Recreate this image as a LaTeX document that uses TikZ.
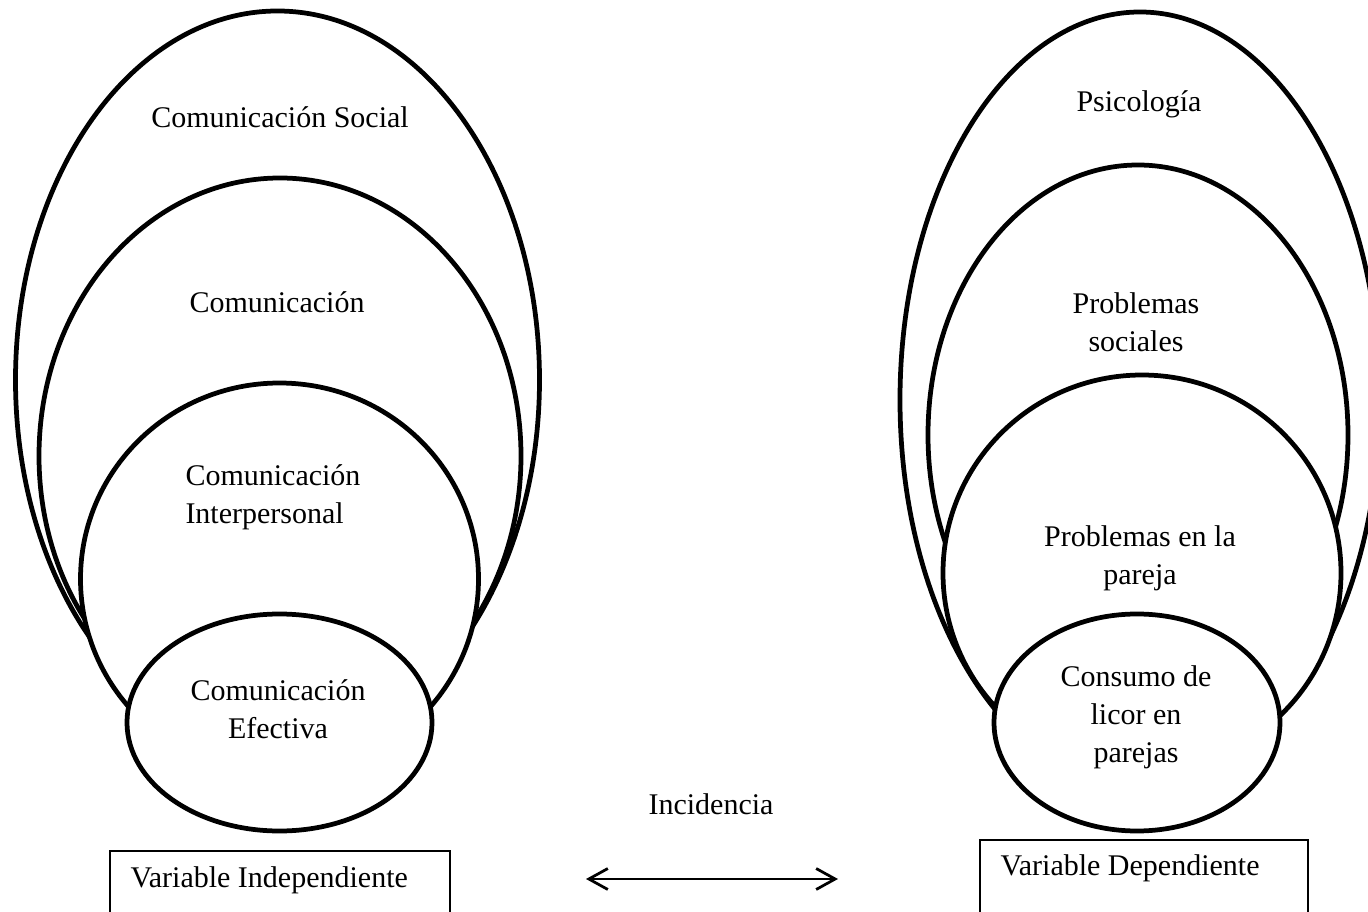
\documentclass[tikz,border=0pt]{standalone}
\usepackage{fontspec}
\setmainfont{Liberation Serif}
\usetikzlibrary{arrows.meta}

\tikzset{
  ovalo/.style={draw=black, fill=white, line width=1.9pt},
  texto/.style={inner sep=0pt, align=center, font=\fontsize{12}{15.2}\selectfont},
  caja/.style={draw=black, line width=0.6pt},
  flecha/.style={line width=1.1pt, {Straight Barb[length=7.6pt,width=8.4pt]}-{Straight Barb[length=7.6pt,width=8.4pt]}}
}

\begin{document}
\begin{tikzpicture}[x=0.4pt,y=-0.4pt]
\useasboundingbox (0,0) rectangle (1368,912);
\clip (0,0) rectangle (1368,912);
%Variable independiente: ovalos de afuera hacia adentro
\draw[ovalo] (277.5,380) ellipse [x radius=262, y radius=369];
\draw[ovalo] (280,456) ellipse [x radius=241, y radius=278];
\draw[ovalo] (279.5,579) ellipse [x radius=199, y radius=196];
\draw[ovalo] (279.5,722.5) ellipse [x radius=152.5, y radius=108.5];
\node[texto] (comsocial) at (280,117) {Comunicación Social};
\node[texto] (com) at (277,302) {Comunicación};
\node[texto, align=left, anchor=west] (cominter) at (185,497) {Comunicación\\Interpersonal};
\node[texto] (comefec) at (278,709) {Comunicación\\Efectiva};
%Variable dependiente
\draw[ovalo] (1140,400) ellipse [x radius=240, y radius=388];
\draw[ovalo] (1138,435) ellipse [x radius=210, y radius=270];
\draw[ovalo] (1142,573) ellipse [x radius=199, y radius=198];
\draw[ovalo] (1137,722.5) ellipse [x radius=143, y radius=108.5];
\node[texto] (psico) at (1139,104) {Psicología};
\node[texto] (probsoc) at (1136,322) {Problemas\\sociales};
\node[texto] (probpareja) at (1140,558) {Problemas en la\\pareja};
\node[texto] (consumo) at (1136,717) {Consumo de\\licor en\\parejas};
%Cajas de las variables
\draw[caja] (110,851) rectangle (450,960);
\draw[caja] (980,840) rectangle (1308,960);
\node[texto, anchor=west] (varind) at (130,880) {Variable Independiente};
\node[texto, anchor=west] (vardep) at (1000,868) {Variable Dependiente};
%Incidencia
\node[texto] (incid) at (711,804) {Incidencia};
\coordinate (izq) at (586,879);
\coordinate (der) at (838,879);
\draw[flecha] (izq) -- (der);
\end{tikzpicture}
\end{document}
